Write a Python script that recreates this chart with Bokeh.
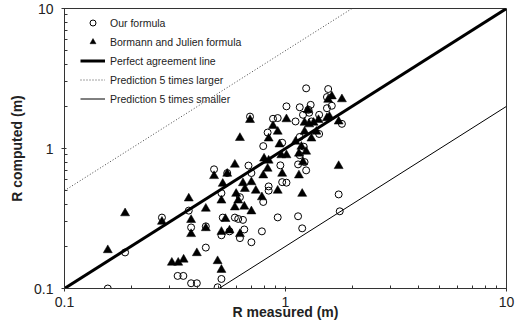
from bokeh.plotting import figure
from bokeh.models import (FixedTicker, CustomJSTickFormatter, Legend, LegendItem)
from bokeh.embed import file_html
from bokeh.resources import INLINE

# ---- data ----
our_x = [0.157, 0.188, 0.276, 0.365, 0.374, 0.325, 0.345, 0.374, 0.397, 0.436, 0.436, 0.493, 0.513,
         0.475, 0.513, 0.520, 0.513, 0.545, 0.558, 0.590, 0.611, 0.642, 0.622, 0.622, 0.651, 0.680,
         0.701, 0.691, 0.701, 0.782, 0.793, 0.793, 0.830, 0.839, 0.839, 0.878, 0.922, 0.922, 0.948,
         0.966, 0.966, 1.01, 1.01, 1.11, 1.14, 1.14, 1.16, 1.16, 1.19, 1.20, 1.21, 1.24, 1.24, 1.27,
         1.28, 1.30, 1.31, 1.42, 1.42, 1.56, 1.54, 1.54, 1.62, 1.74, 1.76, 1.80, 1.16, 1.22]
our_y = [0.100, 0.181, 0.321, 0.360, 0.273, 0.123, 0.123, 0.109, 0.109, 0.196, 0.278, 0.102, 0.117,
         0.710, 0.480, 0.321, 0.240, 0.668, 0.256, 0.321, 0.314, 0.309, 0.449, 0.229, 0.264, 0.755,
         0.668, 1.69, 0.214, 0.256, 0.415, 1.04, 1.30, 0.536, 0.500, 1.63, 1.65, 0.322, 0.758,
         1.10, 0.575, 0.570, 2.00, 1.56, 0.328, 0.770, 1.97, 1.21, 0.269, 1.74, 1.03, 2.69, 0.698, 1.89,
         1.80, 2.05, 1.56, 1.74, 1.27, 2.66, 2.33, 1.94, 2.02, 0.470, 0.356, 1.50, 0.896, 0.80]

bj_x = [0.157, 0.188, 0.276, 0.306, 0.327, 0.346, 0.365, 0.374, 0.374, 0.397, 0.436, 0.436, 0.475,
        0.493, 0.513, 0.513, 0.520, 0.513, 0.535, 0.545, 0.558, 0.590, 0.598, 0.590, 0.611, 0.622,
        0.622, 0.642, 0.651, 0.655, 0.691, 0.701, 0.701, 0.734, 0.782, 0.793, 0.800, 0.830, 0.839,
        0.839, 0.878, 0.922, 0.922, 0.939, 0.957, 0.966, 1.01, 1.01, 1.11, 1.15, 1.15, 1.19, 1.18,
        1.20, 1.22, 1.24, 1.26, 1.28, 1.31, 1.34, 1.38, 1.41, 1.54, 1.56, 1.62, 1.58, 1.74, 1.74,
        1.80, 1.22]
bj_y = [0.188, 0.345, 0.300, 0.153, 0.153, 0.161, 0.440, 0.309, 0.245, 0.179, 0.372, 0.270, 0.636,
        0.157, 0.136, 0.425, 0.560, 0.254, 0.314, 0.661, 0.260, 0.380, 0.475, 0.767, 0.425, 1.19,
        0.245, 0.566, 0.385, 0.515, 1.60, 0.575, 0.356, 0.500, 0.449, 0.643, 0.848, 0.718, 1.18,
        0.820, 1.45, 1.32, 0.500, 1.07, 0.896, 0.661, 1.62, 0.896, 1.12, 0.643, 0.920, 0.475, 1.03,
        0.800, 1.53, 0.950, 1.88, 1.49, 1.18, 1.53, 1.32, 1.60, 1.65, 2.23, 2.36, 1.69, 1.56, 0.750,
        2.25, 1.32]

line_x = [0.1, 10.0]
factor_perfect = 1.0
factor_larger = 5.0
factor_smaller = 0.2

major_ticks = [0.1, 1.0, 10.0]
minor_ticks = [m * 10.0 ** e for e in (-1, 0) for m in range(2, 10)]

legend_labels = ["Our formula", "Bormann and Julien formula", "Perfect agreement line",
                 "Prediction 5 times larger", "Prediction 5 times smaller"]
x_label = "R measured (m)"
y_label = "R computed (m)"

FONT = "Liberation Sans"
TXT = "#222222"
AX = "#333333"

p = figure(width=526, height=325, x_axis_type="log", y_axis_type="log",
           x_range=(0.1, 10), y_range=(0.1, 10),
           output_backend="svg", toolbar_location=None,
           min_border_left=64, min_border_right=20, min_border_top=8, min_border_bottom=37)
p.outline_line_color = AX
p.outline_line_width = 1
p.xgrid.visible = False
p.ygrid.visible = False
p.background_fill_color = "white"
p.border_fill_color = "white"

r_perf = p.line(line_x, [factor_perfect * v for v in line_x], line_color="black", line_width=3)
r_large = p.line(line_x, [factor_larger * v for v in line_x], line_color="#444444", line_width=1,
                 line_dash="1 2")
r_small = p.line(line_x, [factor_smaller * v for v in line_x], line_color="black", line_width=1)

r_our = p.scatter(our_x, our_y, marker="circle", size=7, line_color="black", line_width=1,
                  fill_color=None)
r_bj = p.scatter(bj_x, bj_y, marker="triangle", size=9, line_color="black", line_width=0.5,
                 fill_color="black")

fmt = CustomJSTickFormatter(code="return tick < 1 ? tick.toFixed(1) : tick.toFixed(0);")
for ax in (p.xaxis[0], p.yaxis[0]):
    ax.ticker = FixedTicker(ticks=major_ticks, minor_ticks=minor_ticks)
    ax.formatter = fmt
    ax.axis_line_color = AX
    ax.major_tick_line_color = AX
    ax.minor_tick_line_color = AX
    ax.major_tick_in = 2
    ax.major_tick_out = 3
    ax.minor_tick_in = 3
    ax.minor_tick_out = 0
    ax.major_label_text_font = FONT
    ax.major_label_text_font_size = "14px"
    ax.major_label_text_color = TXT
    ax.axis_label_text_font = FONT
    ax.axis_label_text_font_size = "14px"
    ax.axis_label_text_font_style = "bold"
    ax.axis_label_text_color = TXT

p.xaxis[0].major_label_standoff = 5
p.xaxis[0].axis_label = x_label
p.xaxis[0].axis_label_standoff = -6

p.yaxis[0].major_label_standoff = 8
p.yaxis[0].axis_label = y_label
p.yaxis[0].axis_label_standoff = 6

legend = Legend(items=[
    LegendItem(label=legend_labels[0], renderers=[r_our]),
    LegendItem(label=legend_labels[1], renderers=[r_bj]),
    LegendItem(label=legend_labels[2], renderers=[r_perf]),
    LegendItem(label=legend_labels[3], renderers=[r_large]),
    LegendItem(label=legend_labels[4], renderers=[r_small]),
], location=(16, 182))
legend.padding = 0
legend.margin = 0
legend.spacing = 4
legend.glyph_width = 25
legend.glyph_height = 15
legend.label_height = 15
legend.label_standoff = 5
legend.label_text_font = FONT
legend.label_text_font_size = "10.5px"
legend.label_text_color = TXT
legend.border_line_color = None
legend.background_fill_alpha = 0
p.add_layout(legend)

open("out.html", "w").write(file_html(p, INLINE))
